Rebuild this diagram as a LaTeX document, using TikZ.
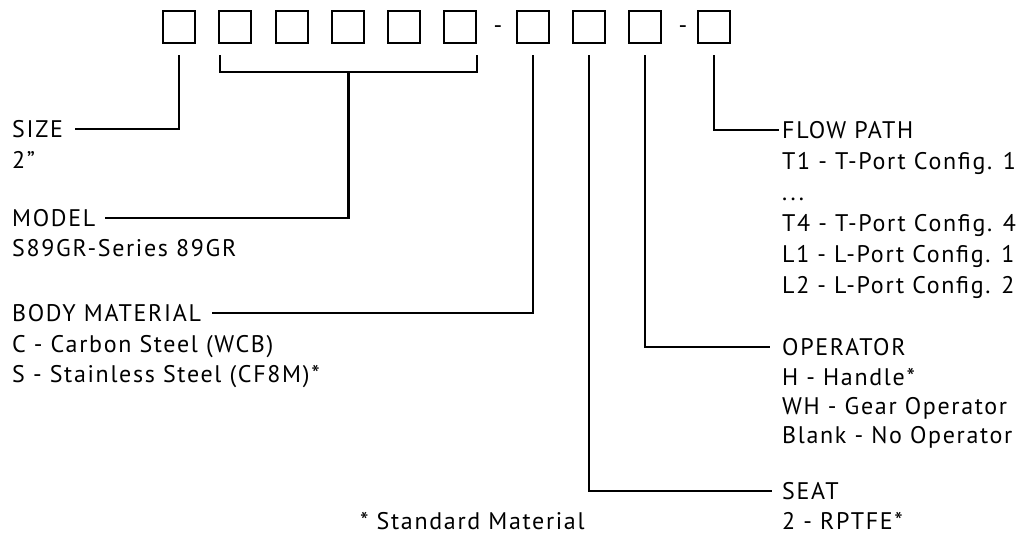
\documentclass[tikz,border=0pt]{standalone}
\usepackage{fontspec}
\setmainfont{PT Sans}[LetterSpace=7]
\usetikzlibrary{calc}
\begin{document}
\begin{tikzpicture}[x=1pt,y=-1pt,
  digit/.style={draw,line width=2.4pt,minimum size=32pt,inner sep=0pt},
  conn/.style={line width=2.2pt},
  lbl/.style={anchor=base west,inner sep=0pt,font=\fontsize{24}{28}\selectfont},
  sep/.style={anchor=base,inner sep=0pt,font=\fontsize{24}{28}\selectfont}]
\useasboundingbox (0,0) rectangle (1024,535);
% code boxes
\foreach \n/\x in {1/179,2/235,3/292,4/348,5/404,6/460,7/533,8/589,9/645,10/714}
  \node[digit] (b\n) at (\x,27) {};
\node[sep] (d1) at (498,34) {-};
\node[sep] (d2) at (683,34) {-};
% left labels
\node[lbl] (sizeH) at (12,137.5) {SIZE};
\node[lbl] (sizeA) at (12,168) {2”};
\node[lbl] (modelH) at (12,226) {MODEL};
\node[lbl] (modelA) at (12,256) {S89GR-Series 89GR};
\node[lbl] (bodyH) at (12,321) {BODY MATERIAL};
\node[lbl] (bodyA) at (12,352) {C - Carbon Steel (WCB)};
\node[lbl] (bodyB) at (12,382) {S - Stainless Steel (CF8M)*};
\node[lbl] (note) at (360,529) {* Standard Material};
% right labels
\node[lbl] (flowH) at (782,138) {FLOW PATH};
\node[lbl] (flowA) at (782,169) {T1 - T-Port Config. 1};
\node[lbl] (flowB) at (782,200) {...};
\node[lbl] (flowC) at (782,231) {T4 - T-Port Config. 4};
\node[lbl] (flowD) at (782,262) {L1 - L-Port Config. 1};
\node[lbl] (flowE) at (782,293) {L2 - L-Port Config. 2};
\node[lbl] (opH) at (782,355) {OPERATOR};
\node[lbl] (opA) at (782,385) {H - Handle*};
\node[lbl] (opB) at (782,414) {WH - Gear Operator};
\node[lbl] (opC) at (782,443) {Blank - No Operator};
\node[lbl] (seatH) at (782,499) {SEAT};
\node[lbl] (seatA) at (782,529) {2 - RPTFE*};
% connectors
\draw[conn] ([yshift=-11pt]b1.south) |- ([xshift=12pt]sizeH.east);
\coordinate (mL) at ([xshift=2pt,yshift=-11pt]b2.south west);
\coordinate (mR) at ([yshift=-11pt]b6.south east);
\draw[conn] (mL) -- ++(0,17) -| (mR);
\coordinate (mM) at ($(mL)!0.5!(mR)+(0,17)$);
\draw[conn] (mM) |- ([xshift=10pt]modelH.east);
\draw[conn] ([yshift=-11pt]b7.south) |- ([xshift=11pt]bodyH.east);
\draw[conn] ([yshift=-11pt]b8.south) |- ([xshift=-10pt]seatH.west);
\draw[conn] ([yshift=-11pt]b9.south) |- ([xshift=-12pt]opH.west);
\draw[conn] ([yshift=-11pt]b10.south) |- ([xshift=-3pt]flowH.west);
\end{tikzpicture}
\end{document}
